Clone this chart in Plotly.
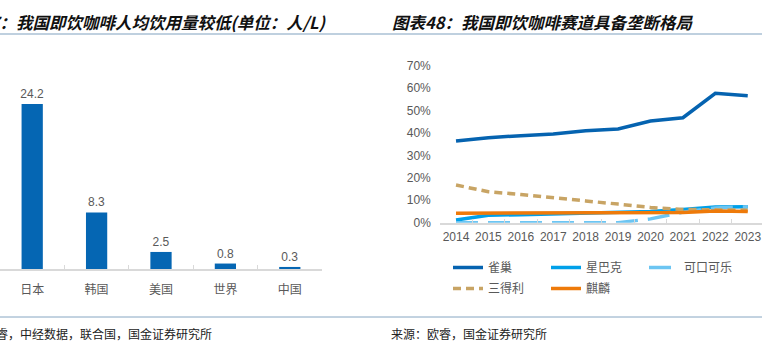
import plotly.graph_objects as go

W, H = 762, 354

# ---- data ----
bar_categories = ["日本", "韩国", "美国", "世界", "中国"]
bar_values = [24.2, 8.3, 2.5, 0.8, 0.3]

years = ["2014", "2015", "2016", "2017", "2018", "2019", "2020", "2021", "2022", "2023"]
nestle = [0.364, 0.379, 0.388, 0.395, 0.410, 0.418, 0.453, 0.468, 0.577, 0.566]
starbucks = [0.012, 0.033, 0.036, 0.039, 0.042, 0.046, 0.050, 0.059, 0.070, 0.071]
cocacola = [0.0, 0.0, 0.0, 0.0, 0.0, 0.0, 0.017, 0.047, 0.066, 0.071]
suntory = [0.168, 0.138, 0.126, 0.113, 0.097, 0.083, 0.068, 0.059, 0.059, 0.056]
kirin = [0.042, 0.043, 0.043, 0.044, 0.044, 0.045, 0.045, 0.046, 0.052, 0.050]

left_title = "图表47：我国即饮咖啡人均饮用量较低(单位：人/L)"
right_title = "图表48：我国即饮咖啡赛道具备垄断格局"
left_source = "来源：欧睿，中经数据，联合国，国金证券研究所"
right_source = "来源：欧睿，国金证券研究所"

FONT = "Arial, 'Liberation Sans', 'Noto Sans CJK SC', sans-serif"
CJK = "'Noto Sans CJK SC', sans-serif"
GRAY = "#595959"
AXIS = "#D9D9D9"


def px_x(x):
    return x / W


def px_y(y):
    return 1 - y / H


fig = go.Figure()

# ---- left bar chart ----
fig.add_trace(go.Bar(
    x=bar_categories, y=bar_values, xaxis="x", yaxis="y",
    marker=dict(color="#0566B3", line=dict(width=0)),
    width=0.33,
    text=[f"{v:.1f}" for v in bar_values], textposition="outside",
    constraintext="none",
    textfont=dict(size=12, color=GRAY, family=FONT),
    cliponaxis=False, showlegend=False, hoverinfo="skip",
))

# ---- right line chart ----
series = [
    ("雀巢", nestle, "#0563B0", "solid", "legend"),
    ("星巴克", starbucks, "#00A0E9", "solid", "legend"),
    ("可口可乐", cocacola, "#6CC5F2", "22px,10px", "legend"),
    ("三得利", suntory, "#C8A464", "8px,5px", "legend2"),
    ("麒麟", kirin, "#EE7A0A", "solid", "legend2"),
]
for name, vals, color, dash, lg in series:
    fig.add_trace(go.Scatter(
        x=years, y=vals, xaxis="x2", yaxis="y2", name=name, mode="lines",
        line=dict(color=color, width=3.5, dash=dash),
        legend=lg, hoverinfo="skip",
    ))

legend_common = dict(
    orientation="h", xanchor="left", yanchor="top",
    entrywidth=53, entrywidthmode="pixels",
    font=dict(size=12, color=GRAY, family=FONT),
    bgcolor="rgba(0,0,0,0)", tracegroupgap=0,
)

fig.update_layout(
    width=W, height=H,
    margin=dict(l=0, r=0, t=0, b=0, autoexpand=False),
    paper_bgcolor="white", plot_bgcolor="white",
    font=dict(family=FONT, size=12, color=GRAY),
    xaxis=dict(
        domain=[0, px_x(322)], range=[-0.5, 4.5], type="category",
        showline=True, linecolor=AXIS, linewidth=1.5,
        ticks="inside", tickson="boundaries", ticklen=4, tickcolor=AXIS,
        tickfont=dict(size=12, color=GRAY, family=FONT), tickangle=0,
        ticklabelstandoff=9, showgrid=False, zeroline=False,
        anchor="y",
    ),
    yaxis=dict(
        domain=[px_y(269), px_y(40)], range=[0, 229 / 6.82],
        visible=False, showgrid=False, zeroline=False, anchor="x",
    ),
    xaxis2=dict(
        domain=[px_x(439.8), 1], range=[-0.5, 9.44], type="category",
        showline=True, linecolor=AXIS, linewidth=1.5,
        ticks="inside", tickson="boundaries", ticklen=4, tickcolor=AXIS,
        tickfont=dict(size=12, color=GRAY, family=FONT), tickangle=0,
        ticklabelstandoff=2, showgrid=False, zeroline=False,
        anchor="y2",
    ),
    yaxis2=dict(
        domain=[px_y(222.7), px_y(65.7)], range=[0, 0.70],
        tickformat=".0%", dtick=0.1, tick0=0,
        showline=False, showgrid=False, zeroline=False, ticks="",
        tickfont=dict(size=12, color=GRAY, family=FONT),
        ticklabelstandoff=8,
        anchor="x2",
    ),
    legend=dict(x=px_x(448), y=px_y(253), **legend_common),
    legend2=dict(x=px_x(448), y=px_y(274), **legend_common),
)

# separators
fig.add_shape(type="line", xref="paper", yref="paper",
              x0=0, x1=1, y0=px_y(34), y1=px_y(34),
              line=dict(color="#BFD0DF", width=2))
fig.add_shape(type="line", xref="paper", yref="paper",
              x0=0, x1=1, y0=px_y(317), y1=px_y(317),
              line=dict(color="#86A6C2", width=1))

# titles
title_font = dict(family=CJK, size=16.5, color="#111111", weight="bold", style="italic")
fig.add_annotation(text=left_title, xref="paper", yref="paper",
                   x=px_x(-55), y=px_y(22), xanchor="left", yanchor="middle",
                   showarrow=False, font=title_font)
fig.add_annotation(text=right_title, xref="paper", yref="paper",
                   x=px_x(390), y=px_y(22), xanchor="left", yanchor="middle",
                   showarrow=False, font=title_font)

# sources
src_font = dict(family=CJK, size=12, color="#222222")
fig.add_annotation(text=left_source, xref="paper", yref="paper",
                   x=px_x(-54), y=px_y(333), xanchor="left", yanchor="middle",
                   showarrow=False, font=src_font)
fig.add_annotation(text=right_source, xref="paper", yref="paper",
                   x=px_x(389), y=px_y(333), xanchor="left", yanchor="middle",
                   showarrow=False, font=src_font)

fig.write_html("out.html")
